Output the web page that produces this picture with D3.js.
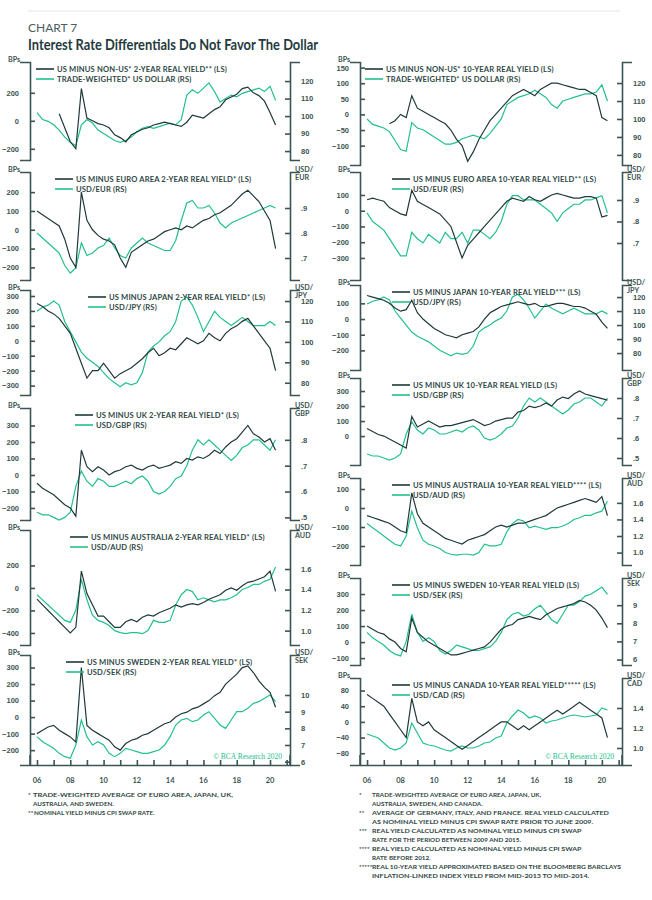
<!DOCTYPE html>
<html>
<head>
<meta charset="utf-8">
<script src="https://cdn.jsdelivr.net/npm/d3@7"></script>
<style>
  body { margin: 0; background: #fff; }
  svg { font-family: Lato, 'DejaVu Sans', sans-serif; }
  .tick text { fill: #3c5454; font-size: 7.5px; font-weight: bold; }
  .domain, .tick line { stroke: #3c5454; stroke-width: 1.6px; }
  .legend { fill: #2f4747; font-size: 7.6px; font-weight: bold; letter-spacing: 0.15px; }
  .unit { fill: #3c5454; font-size: 7.2px; font-weight: bold; }
  .foot { fill: #2f4747; font-size: 6.3px; font-weight: bold; }
</style>
</head>
<body>
<svg id="chart" width="652" height="900"></svg>
<script>
// dates: 3 points a year from 2006.0 to 2020.33
const dates = d3.range(44).map(i => 2006 + i / 3)
const yearTicks = d3.range(2006, 2022)
const yearLabels = ['06', '08', '10', '12', '14', '16', '18', '20']

// shared FX series (RS)
const twDollar = [102,98,97,95,92,88,85,83,95,98,96,92,90,88,86,85,86,88,91,93,94,93,94,95,96,95,98,112,115,113,116,119,114,108,110,112,111,113,114,115,116,114,117,109]
const twDollar6 = [100,97,96,95,93,88,83,82,98,95,94,92,90,88,86,86,87,89,90,91,90,89,92,96,100,108,110,112,113,114,116,114,112,108,106,110,111,112,113,114,114,115,119,110]
const usdEur = [.80,.78,.76,.74,.72,.67,.64,.66,.76,.71,.72,.74,.75,.78,.74,.71,.70,.74,.76,.78,.76,.75,.74,.73,.73,.77,.85,.92,.93,.90,.90,.91,.88,.84,.82,.84,.85,.86,.87,.88,.89,.90,.91,.90]
const usdEur10 = [.84,.80,.78,.76,.72,.68,.64,.64,.75,.72,.70,.74,.72,.70,.75,.72,.72,.75,.70,.76,.76,.74,.72,.75,.80,.88,.92,.92,.90,.90,.90,.88,.86,.84,.80,.84,.86,.88,.88,.90,.90,.91,.92,.84]
const usdJpy = [115,117,118,120,118,110,105,100,95,92,90,88,85,82,80,78,80,79,80,85,95,98,100,103,105,110,120,122,118,112,105,110,115,112,110,108,110,112,110,108,108,108,110,108]
const usdGbp = [.52,.51,.51,.50,.49,.50,.52,.62,.68,.64,.62,.65,.64,.62,.62,.63,.64,.63,.65,.66,.64,.60,.59,.60,.62,.65,.66,.70,.76,.80,.78,.80,.78,.76,.74,.72,.74,.77,.78,.80,.80,.78,.76,.80]
const usdAud = [1.35,1.30,1.25,1.20,1.15,1.10,1.08,1.20,1.50,1.30,1.15,1.10,1.08,1.05,1.00,0.98,0.97,0.98,0.98,0.97,1.00,1.10,1.08,1.08,1.10,1.25,1.35,1.40,1.38,1.30,1.32,1.30,1.28,1.30,1.30,1.32,1.35,1.40,1.42,1.45,1.45,1.48,1.50,1.62]
const usdSek = [7.5,7.2,7.0,6.8,6.5,6.3,6.2,7.0,8.5,7.5,7.0,7.2,7.0,6.5,6.3,6.5,6.8,6.7,6.6,6.5,6.5,6.6,6.7,7.0,7.5,8.2,8.5,8.6,8.4,8.5,8.8,9.0,8.6,8.2,8.0,8.5,9.0,9.0,9.2,9.5,9.6,9.8,10.0,9.6]
const usdCad = [1.14,1.12,1.10,1.05,1.00,0.98,1.00,1.05,1.25,1.15,1.05,1.03,1.02,1.00,0.98,0.97,1.00,1.02,1.00,1.00,1.02,1.05,1.06,1.10,1.12,1.25,1.32,1.38,1.35,1.30,1.32,1.30,1.25,1.27,1.28,1.30,1.32,1.33,1.32,1.31,1.32,1.33,1.40,1.38]

// yield differentials (LS, bps)
const nonUs2y = [null,null,null,null,50,-50,-150,-200,230,20,0,-20,-30,-50,-100,-120,-150,-100,-80,-60,-50,-30,-20,-10,-20,-30,-40,-10,40,30,20,50,80,100,150,170,190,230,240,200,180,140,60,-30]
const euro2y = [100,80,60,40,20,-50,-150,-200,200,50,0,-30,-50,-60,-80,-150,-200,-120,-100,-80,-60,-50,-30,-10,0,10,0,20,10,30,50,60,80,90,110,130,160,190,210,180,150,100,50,-100]
const japan2y = [250,230,200,180,150,100,50,-50,-150,-250,-200,-200,-150,-200,-250,-220,-200,-180,-150,-120,-80,-50,-100,-80,-50,-60,-20,20,0,-20,0,50,20,0,50,80,100,130,150,100,50,0,-50,-200]
const uk2y = [-50,-80,-100,-120,-150,-180,-200,-250,150,50,20,50,30,0,20,30,50,60,40,30,50,60,40,50,60,80,70,100,90,110,100,120,150,130,170,200,220,260,300,250,230,200,220,150]
const aus2y = [-100,-150,-200,-250,-300,-350,-400,-350,150,-50,-150,-250,-250,-300,-350,-350,-300,-280,-300,-260,-240,-250,-220,-200,-180,-150,-170,-150,-140,-150,-130,-100,-80,-60,-20,0,-20,20,50,60,80,100,150,-30]
const swe2y = [-100,-80,-60,-50,-80,-100,-120,-150,300,-50,-80,-100,-120,-140,-180,-200,-160,-140,-130,-110,-100,-80,-60,-40,-30,0,20,30,50,60,80,100,130,150,200,230,260,300,310,270,220,180,150,60]
const nonUs10y = [null,null,null,null,-30,-20,0,-10,60,20,10,0,-10,-20,-30,-50,-80,-100,-150,-120,-80,-50,-20,0,20,40,60,70,80,70,60,80,90,100,100,95,90,85,80,80,70,60,-10,-20]
const euro10y = [70,80,70,60,20,0,-20,-30,130,60,40,20,0,-20,-60,-100,-200,-300,-220,-180,-140,-100,-60,-20,20,60,80,70,60,90,70,60,80,100,110,100,90,80,80,90,90,80,-40,-30]
const japan10y = [150,140,130,120,100,70,50,60,120,40,0,-30,-60,-80,-100,-110,-120,-100,-90,-80,-50,0,40,60,80,90,100,110,100,90,100,80,80,90,100,100,90,80,80,70,50,30,-20,-60]
const uk10y = [50,30,10,0,-20,-40,-60,-80,130,60,80,100,80,60,70,70,80,90,100,110,90,70,80,100,110,120,120,160,170,200,190,200,220,200,240,260,250,280,300,280,270,260,250,240]
const aus10y = [-40,-50,-60,-70,-80,-100,-120,-130,80,-30,-80,-100,-120,-140,-160,-170,-180,-190,-170,-160,-150,-140,-120,-100,-90,-100,-90,-80,-80,-70,-60,-50,-40,-20,0,10,20,30,40,50,40,30,60,-40]
const swe10y = [100,80,60,50,20,0,-40,-60,150,60,30,0,-20,-40,-60,-80,-80,-70,-60,-50,-40,-30,0,40,80,100,110,140,150,160,150,140,170,190,210,220,230,240,260,250,230,200,150,90]
const can10y = [70,60,50,40,20,0,-20,-40,60,0,-10,0,-20,-30,-40,-50,-60,-70,-60,-50,-40,-30,-20,-10,0,0,-10,-20,-10,-20,-10,0,10,20,30,20,30,40,50,40,30,20,10,-40]

const panels = [
  { col: 0, top: 62, bot: 160, ls: nonUs2y, rs: twDollar, lDom: [-280, 420], lTicks: [-200, 0, 200], rDom: [74.9, 130.9], rTicks: [80, 90, 100, 110, 120], rFmt: d => d, unit: [], lgX: 36,
    names: ["US MINUS NON-US* 2-YEAR REAL YIELD** (LS)", "TRADE-WEIGHTED* US DOLLAR (RS)"] },
  { col: 0, top: 172, bot: 280, ls: euro2y, rs: usdEur, lDom: [-267, 307], lTicks: [-200, -100, 0, 100, 200], rDom: [.612, 1.044], rTicks: [.7, .8, .9], rFmt: d => String(d).replace('0.', '.'), unit: ['USD/', 'EUR'], lgX: 55,
    names: ["US MINUS EURO AREA 2-YEAR REAL YIELD* (LS)", "USD/EUR (RS)"] },
  { col: 0, top: 290, bot: 395, ls: japan2y, rs: usdJpy, lDom: [-363, 340], lTicks: [-300, -200, -100, 0, 100, 200, 300], rDom: [74, 125.4], rTicks: [80, 90, 100, 110, 120], rFmt: d => d, unit: ['USD/', 'JPY'], lgX: 88,
    names: ["US MINUS JAPAN 2-YEAR REAL YIELD* (LS)", "USD/JPY (RS)"] },
  { col: 0, top: 408, bot: 520, ls: uk2y, rs: usdGbp, lDom: [-273, 406], lTicks: [-200, -100, 0, 100, 200, 300], rDom: [.49, .923], rTicks: [.5, .6, .7, .8], rFmt: d => String(d).replace('0.', '.'), unit: ['USD/', 'GBP'], lgX: 75,
    names: ["US MINUS UK 2-YEAR REAL YIELD* (LS)", "USD/GBP (RS)"] },
  { col: 0, top: 530, bot: 645, ls: aus2y, rs: usdAud, lDom: [-507, 515], lTicks: [-400, -200, 0, 200], rDom: [.86, 1.98], rTicks: [1.0, 1.2, 1.4, 1.6], rFmt: d3.format('.1f'), unit: ['USD/', 'AUD'], lgX: 70,
    names: ["US MINUS AUSTRALIA 2-YEAR REAL YIELD* (LS)", "USD/AUD (RS)"] },
  { col: 0, top: 655, bot: 765, ls: swe2y, rs: usdSek, lDom: [-290, 376], lTicks: [-200, -100, 0, 100, 200, 300], rDom: [5.8, 12.4], rTicks: [6, 7, 8, 9, 10], rFmt: d => d, unit: ['USD/', 'SEK'], lgX: 66, credit: true, xAxis: true,
    names: ["US MINUS SWEDEN 2-YEAR REAL YIELD* (LS)", "USD/SEK (RS)"] },
  { col: 1, top: 62, bot: 165, ls: nonUs10y, rs: twDollar6, lDom: [-162, 168], lTicks: [-100, -50, 0, 50, 100, 150], rDom: [74.4, 131.7], rTicks: [80, 90, 100, 110, 120], rFmt: d => d, unit: [], lgX: 365,
    names: ["US MINUS NON-US* 10-YEAR REAL YIELD (LS)", "TRADE-WEIGHTED* US DOLLAR (RS)"] },
  { col: 1, top: 172, bot: 280, ls: euro10y, rs: usdEur10, lDom: [-440, 246], lTicks: [-300, -200, -100, 0, 100], rDom: [.528, 1.03], rTicks: [.7, .8, .9], rFmt: d => String(d).replace('0.', '.'), unit: ['USD/', 'EUR'], lgX: 392,
    names: ["US MINUS EURO AREA 10-YEAR REAL YIELD** (LS)", "USD/EUR (RS)"] },
  { col: 1, top: 285, bot: 370, ls: japan10y, rs: usdJpy, lDom: [-325, 217], lTicks: [-200, -100, 0, 100], rDom: [67.9, 128.6], rTicks: [80, 90, 100, 110, 120], rFmt: d => d, unit: ['USD/', 'JPY'], lgX: 392,
    names: ["US MINUS JAPAN 10-YEAR REAL YIELD*** (LS)", "USD/JPY (RS)"] },
  { col: 1, top: 378, bot: 465, ls: uk10y, rs: usdGbp, lDom: [-193, 387], lTicks: [0, 100, 200, 300], rDom: [.465, .9], rTicks: [.5, .6, .7, .8], rFmt: d => String(d).replace('0.', '.'), unit: ['USD/', 'GBP'], lgX: 392,
    names: ["US MINUS UK 10-YEAR REAL YIELD (LS)", "USD/GBP (RS)"] },
  { col: 1, top: 478, bot: 565, ls: aus10y, rs: usdAud, lDom: [-300, 158], lTicks: [-200, -100, 0, 100], rDom: [.85, 1.9], rTicks: [1.0, 1.2, 1.4, 1.6], rFmt: d3.format('.1f'), unit: ['USD/', 'AUD'], lgX: 392,
    names: ["US MINUS AUSTRALIA 10-YEAR REAL YIELD**** (LS)", "USD/AUD (RS)"] },
  { col: 1, top: 578, bot: 665, ls: swe10y, rs: usdSek, lDom: [-143, 400], lTicks: [-100, 0, 100, 200, 300], rDom: [5.7, 10.5], rTicks: [6, 7, 8, 9], rFmt: d => d, unit: ['USD/', 'SEK'], lgX: 392,
    names: ["US MINUS SWEDEN 10-YEAR REAL YIELD (LS)", "USD/SEK (RS)"] },
  { col: 1, top: 678, bot: 765, ls: can10y, rs: usdCad, lDom: [-110, 112], lTicks: [-80, -40, 0, 40, 80], rDom: [.83, 1.70], rTicks: [1.0, 1.2, 1.4], rFmt: d3.format('.1f'), unit: ['USD/', 'CAD'], lgX: 392, credit: true, xAxis: true,
    names: ["US MINUS CANADA 10-YEAR REAL YIELD***** (LS)", "USD/CAD (RS)"] },
]

const cols = [{ x0: 30, x1: 290 }, { x0: 360, x1: 622 }]
const dark = '#21393a', green = '#22c08c'

const svg = d3.select('#chart')

svg.append('line').attr('x1', 28).attr('x2', 620).attr('y1', 11).attr('y2', 11).attr('stroke', '#e6e6e6')
svg.append('text').attr('x', 28).attr('y', 32).attr('fill', '#4a5e5e').style('font-size', '12px').text('CHART 7')
svg.append('text').attr('x', 28).attr('y', 50).attr('fill', '#1f3a3d')
  .attr('textLength', 290).attr('lengthAdjust', 'spacingAndGlyphs')
  .style('font-size', '15px').style('font-weight', 'bold')
  .text('Interest Rate Differentials Do Not Favor The Dollar')

panels.forEach(p => {
  const c = cols[p.col]
  const x = d3.scaleLinear().domain([2005.58, 2021.2]).range([c.x0, c.x1])
  const yL = d3.scaleLinear().domain(p.lDom).range([p.bot, p.top])
  const yR = d3.scaleLinear().domain(p.rDom).range([p.bot, p.top])
  const g = svg.append('g')

  g.append('path').datum(p.rs.map((v, i) => [dates[i], v]))
    .attr('fill', 'none').attr('stroke', green).attr('stroke-width', 1.2)
    .attr('d', d3.line().defined(d => d[1] != null).x(d => x(d[0])).y(d => yR(d[1])))
  g.append('path').datum(p.ls.map((v, i) => [dates[i], v]))
    .attr('fill', 'none').attr('stroke', dark).attr('stroke-width', 1.2)
    .attr('d', d3.line().defined(d => d[1] != null).x(d => x(d[0])).y(d => yL(d[1])))

  g.append('g').attr('transform', `translate(${c.x0},0)`)
    .call(d3.axisLeft(yL).tickValues(p.lTicks).tickSize(-5).tickSizeOuter(10).tickPadding(6))
    .call(a => a.selectAll('.tick text').attr('dx', -5))
  g.append('g').attr('transform', `translate(${c.x1},0)`)
    .call(d3.axisRight(yR).tickValues(p.rTicks).tickFormat(p.rFmt).tickSize(-5).tickSizeOuter(10).tickPadding(6))
    .call(a => a.selectAll('.tick text').attr('dx', 5))

  g.append('text').attr('class', 'unit').attr('x', c.x0 - 22).attr('y', p.top).text('BPs')
  p.unit.forEach((u, i) => g.append('text').attr('class', 'unit').attr('x', c.x1 + 5).attr('y', p.top + i * 7.5).text(u))

  // legend
  const lg = g.append('g').attr('transform', `translate(${p.lgX},${p.top + 8})`)
  p.names.forEach((n, i) => {
    lg.append('line').attr('x1', 0).attr('x2', 18).attr('y1', i * 10 - 1).attr('y2', i * 10 - 1)
      .attr('stroke', i ? green : dark).attr('stroke-width', 1.6)
    lg.append('text').attr('class', 'legend').attr('x', 21).attr('y', i * 10 + 2).text(n)
  })

  if (p.credit) {
    g.append('text').attr('x', c.x1 - 8).attr('y', p.bot - 6).attr('text-anchor', 'end')
      .attr('fill', green).style('font-size', '7.5px').style('font-family', 'Liberation Serif, serif')
      .text('© BCA Research 2020')
  }

  if (p.xAxis) {
    g.append('g').attr('transform', `translate(0,${p.bot})`)
      .call(d3.axisBottom(x).tickValues(yearTicks).tickSize(-5).tickSizeOuter(0).tickFormat(() => ''))
    g.append('line').attr('x1', c.x1).attr('x2', c.x1).attr('y1', p.bot - 10).attr('y2', p.bot).attr('stroke', '#3c5454').attr('stroke-width', 1.6)
    g.append('line').attr('x1', c.x0).attr('x2', c.x0).attr('y1', p.bot - 10).attr('y2', p.bot).attr('stroke', '#3c5454').attr('stroke-width', 1.6)
    yearLabels.forEach((l, i) => {
      g.append('text').attr('x', x(2006 + i * 2)).attr('y', p.bot + 18).attr('text-anchor', 'middle')
        .attr('fill', '#3c5454').style('font-size', '7.5px').style('font-weight', 'bold').text(l)
    })
  }
})

// footnotes
const footLeft = [
  ['*', 'TRADE-WEIGHTED AVERAGE OF EURO AREA, JAPAN, UK,', 200],
  ['', 'AUSTRALIA, AND SWEDEN.', 0],
  ['**', 'NOMINAL YIELD MINUS CPI SWAP RATE.', 0],
]
const footRight = [
  ['*', 'TRADE-WEIGHTED AVERAGE OF EURO AREA, JAPAN, UK,'],
  ['', 'AUSTRALIA, SWEDEN, AND CANADA.'],
  ['**', 'AVERAGE OF GERMANY, ITALY, AND FRANCE. REAL YIELD CALCULATED'],
  ['', 'AS NOMINAL YIELD MINUS CPI SWAP RATE PRIOR TO JUNE 2009.'],
  ['***', 'REAL YIELD CALCULATED AS NOMINAL YIELD MINUS CPI SWAP'],
  ['', 'RATE FOR THE PERIOD BETWEEN 2009 AND 2015.'],
  ['****', 'REAL YIELD CALCULATED AS NOMINAL YIELD MINUS CPI SWAP'],
  ['', 'RATE BEFORE 2012.'],
  ['*****', 'REAL 10-YEAR YIELD APPROXIMATED BASED ON THE BLOOMBERG BARCLAYS'],
  ['', 'INFLATION-LINKED INDEX YIELD FROM MID-2013 TO MID-2014.'],
]
footLeft.forEach((f, i) => {
  svg.append('text').attr('class', 'foot').attr('x', 28).attr('y', 797 + i * 9).text(f[0])
  const t = svg.append('text').attr('class', 'foot').attr('x', f[0] === '**' ? 34 : 33).attr('y', 797 + i * 9).text(f[1])
  if (f[2]) t.attr('textLength', f[2]).attr('lengthAdjust', 'spacingAndGlyphs')
})
footRight.forEach((f, i) => {
  svg.append('text').attr('class', 'foot').attr('x', 359).attr('y', 797 + i * 9).text(f[0])
  const t = svg.append('text').attr('class', 'foot').attr('x', 372).attr('y', 797 + i * 9).text(f[1])
  if (f[1].length > 50) t.attr('textLength', f[1].length * 3.95).attr('lengthAdjust', 'spacingAndGlyphs')
})
</script>
</body>
</html>
